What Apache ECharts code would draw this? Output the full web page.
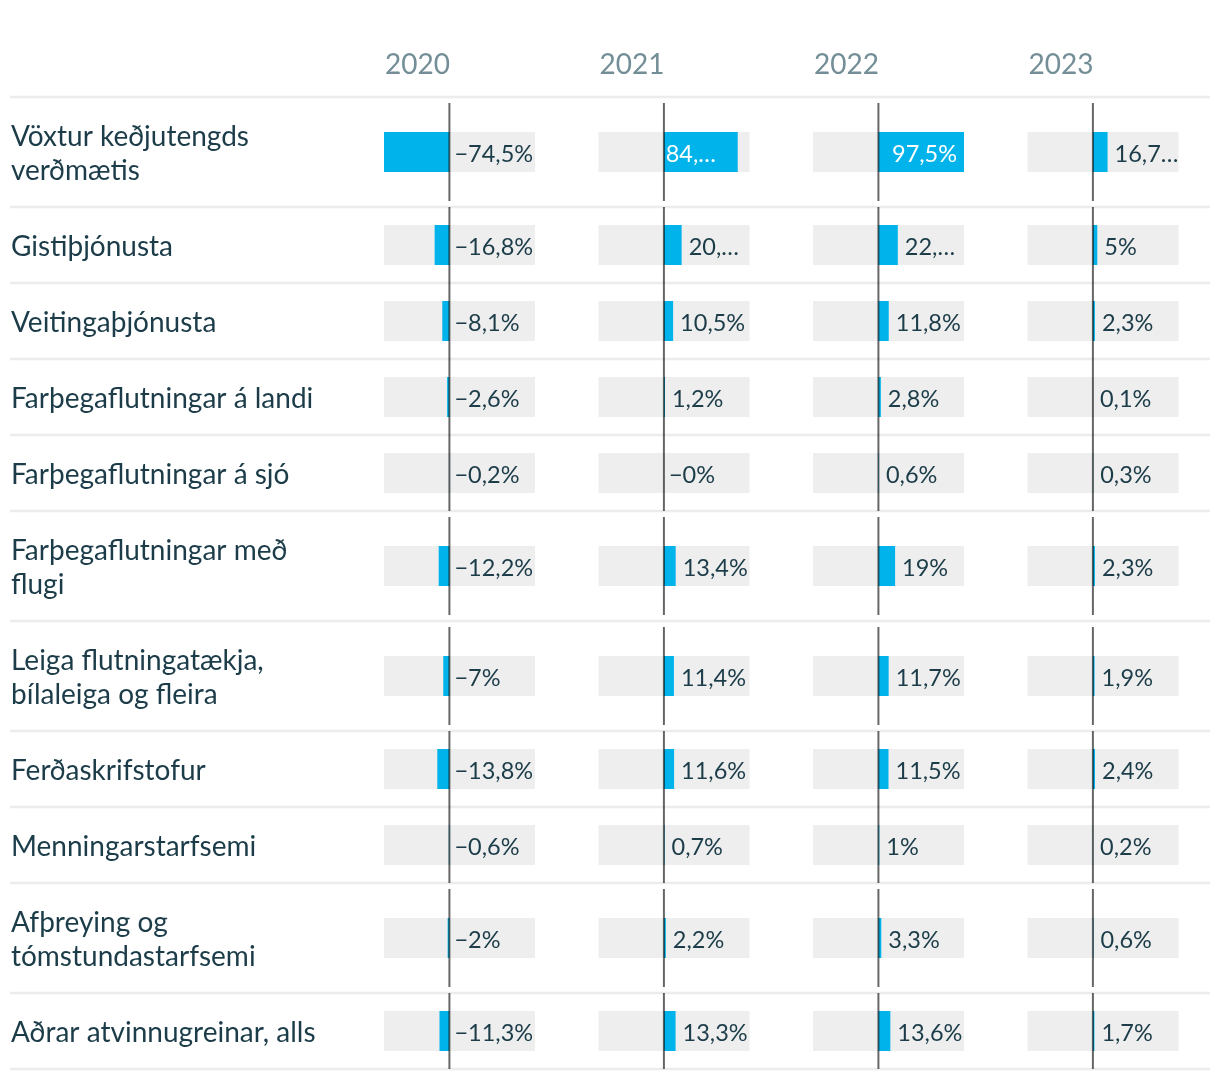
<!DOCTYPE html>
<html>
<head>
<meta charset="utf-8">
<script src="https://cdn.jsdelivr.net/npm/echarts@6/dist/echarts.min.js"></script>
<style>
  html, body { margin: 0; background: #fff; }
  #chart { width: 1220px; height: 1080px; }
</style>
</head>
<body>
<div id="chart"></div>
<script>
// ár (dálkar)
const years = ['2020', '2021', '2022', '2023']

// atvinnugreinar (raðir), \n = línubrot eins og á myndinni
const categories = [
  'Vöxtur keðjutengds\nverðmætis',
  'Gistiþjónusta',
  'Veitingaþjónusta',
  'Farþegaflutningar á landi',
  'Farþegaflutningar á sjó',
  'Farþegaflutningar með\nflugi',
  'Leiga flutningatækja,\nbílaleiga og fleira',
  'Ferðaskrifstofur',
  'Menningarstarfsemi',
  'Afþreying og\ntómstundastarfsemi',
  'Aðrar atvinnugreinar, alls'
]

const v2020 = [-74.5, -16.8, -8.1, -2.6, -0.2, -12.2, -7, -13.8, -0.6, -2, -11.3]
const v2021 = [84.1, 20.2, 10.5, 1.2, -0.04, 13.4, 11.4, 11.6, 0.7, 2.2, 13.3]
const v2022 = [97.5, 22.1, 11.8, 2.8, 0.6, 19, 11.7, 11.5, 1, 3.3, 13.6]
const v2023 = [16.7, 5, 2.3, 0.1, 0.3, 2.3, 1.9, 2.4, 0.2, 0.6, 1.7]

// merki sem eru stytt á myndinni (röð,dálkur)
const shortLabels = {
  '0,1': '84,…',
  '0,3': '16,7…',
  '1,1': '20,…',
  '1,2': '22,…'
}

const columns = [v2020, v2021, v2022, v2023]

// útlit
const TOP = 97
const LINE_H = 34
const BAR_H = 40
const COL_W = 151
const colLeft = i => 384 + i * 214.5
const textColor = '#1b3c48'
const blue = '#00b4eb'
const grey = '#eeeeee'
const font = 'Lato'

const rowHeights = categories.map(c => 42 + c.split('\n').length * LINE_H)
const rowTops = []
rowHeights.reduce((acc, h) => { rowTops.push(acc); return acc + h }, 0)
const totalH = rowHeights.reduce((a, b) => a + b, 0)

const allValues = columns.flat()
const xMin = Math.min(...allValues)
const xMax = Math.max(...allValues)

const fmt = v => {
  const s = Math.abs(v).toFixed(1).replace(/\.0$/, '').replace('.', ',')
  return (v < 0 ? '−' : '') + s + '%'
}

const chart = echarts.init(document.getElementById('chart'))

const grids = [{ left: 10, width: 1200, top: TOP, height: totalH }]
const xAxes = [{ gridIndex: 0, type: 'value', min: 0, max: 1, show: false }]
const yAxes = [{ gridIndex: 0, type: 'value', min: 0, max: totalH, inverse: true, show: false }]

years.forEach((y, i) => {
  grids.push({ left: colLeft(i), width: COL_W, top: TOP, height: totalH })
  xAxes.push({ gridIndex: i + 1, type: 'value', min: xMin, max: xMax, show: false })
  yAxes.push({ gridIndex: i + 1, type: 'value', min: 0, max: totalH, inverse: true, show: false })
})

// töflulínur og heiti raða
const tableSeries = {
  type: 'custom',
  xAxisIndex: 0,
  yAxisIndex: 0,
  silent: true,
  data: categories.map((c, r) => [0, r]),
  renderItem: (params, api) => {
    const r = api.value(1)
    const top = rowTops[r]
    const h = rowHeights[r]
    const pTop = api.coord([0, top])
    const pBot = api.coord([1, top + h])
    const pMid = api.coord([0, top + h / 2])
    const children = [
      {
        type: 'line',
        shape: { x1: pTop[0], y1: pBot[1], x2: pBot[0], y2: pBot[1] },
        style: { stroke: '#ececec', lineWidth: 2.5 }
      },
      {
        type: 'text',
        style: {
          x: pMid[0] + 1, y: pMid[1] + 2,
          text: categories[r],
          fill: textColor,
          fontFamily: font, fontSize: 28, lineHeight: LINE_H,
          align: 'left', verticalAlign: 'middle'
        }
      }
    ]
    if (r === 0) {
      children.push({
        type: 'line',
        shape: { x1: pTop[0], y1: pTop[1], x2: pBot[0], y2: pTop[1] },
        style: { stroke: '#ececec', lineWidth: 2.5 }
      })
    }
    return { type: 'group', children }
  }
}

const columnSeries = columns.map((vals, i) => ({
  type: 'custom',
  name: years[i],
  xAxisIndex: i + 1,
  yAxisIndex: i + 1,
  silent: true,
  data: vals.map((v, r) => [v, r]),
  renderItem: (params, api) => {
    const v = api.value(0)
    const r = api.value(1)
    const c = rowTops[r] + rowHeights[r] / 2
    const p0 = api.coord([0, c])
    const pv = api.coord([v, c])
    const pMin = api.coord([xMin, c])
    const pMax = api.coord([xMax, c])
    const lineHalf = Math.min(49, rowHeights[r] / 2)
    const barEnd = Math.max(p0[0], pv[0])
    const text = shortLabels[r + ',' + i] || fmt(v)
    const inside = v > 0 && pMax[0] - barEnd < 40
    const label = inside
      ? { x: barEnd - 72, fill: '#ffffff' }
      : { x: barEnd + (v > 0 ? 7 : 5), fill: textColor }
    return {
      type: 'group',
      children: [
        {
          type: 'rect',
          shape: { x: pMin[0], y: p0[1] - BAR_H / 2, width: pMax[0] - pMin[0], height: BAR_H },
          style: { fill: grey }
        },
        {
          type: 'rect',
          shape: { x: Math.min(p0[0], pv[0]), y: p0[1] - BAR_H / 2, width: Math.abs(pv[0] - p0[0]), height: BAR_H },
          style: { fill: blue }
        },
        {
          type: 'line',
          shape: { x1: p0[0], y1: p0[1] - lineHalf, x2: p0[0], y2: p0[1] + lineHalf },
          style: { stroke: 'rgba(0,0,0,0.6)', lineWidth: 2 }
        },
        {
          type: 'text',
          style: {
            x: label.x, y: p0[1] + 2,
            text,
            fill: label.fill,
            fontFamily: font, fontSize: 23.5,
            align: 'left', verticalAlign: 'middle'
          }
        }
      ]
    }
  }
}))

chart.setOption({
  animation: false,
  backgroundColor: '#ffffff',
  title: years.map((y, i) => ({
    text: y,
    left: colLeft(i) + 1,
    top: 51,
    padding: 0,
    textStyle: { fontFamily: font, fontSize: 28, fontWeight: 'normal', color: '#738e96' }
  })),
  grid: grids,
  xAxis: xAxes,
  yAxis: yAxes,
  series: [tableSeries, ...columnSeries]
})

window.addEventListener('resize', () => chart.resize())
</script>
</body>
</html>
